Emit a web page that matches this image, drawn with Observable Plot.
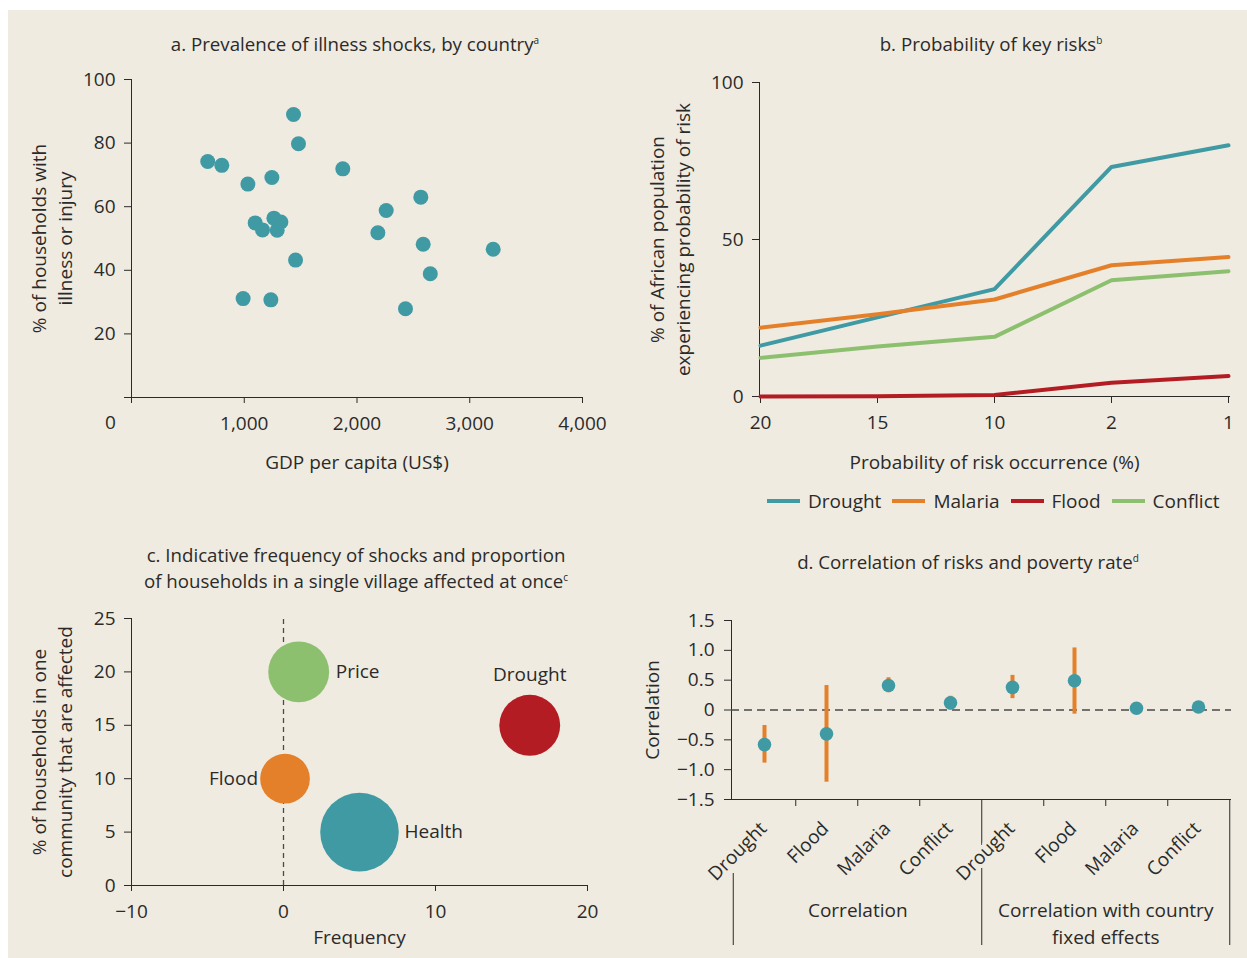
<!DOCTYPE html>
<html>
<head>
<meta charset="utf-8">
<script src="https://cdn.jsdelivr.net/npm/d3@7"></script>
<script src="https://cdn.jsdelivr.net/npm/@observablehq/plot@0.6"></script>
<style>
  html, body { margin: 0; padding: 0; background: #ffffff; }
  #root { position: relative; width: 1247px; height: 958px; overflow: hidden; font-family: 'Open Sans', sans-serif; color: #2b2a29; }
  #bg { position: absolute; left: 8px; top: 10px; width: 1239px; height: 948px; background: #efebe1; }
  .panel { position: absolute; }
  .title { position: absolute; transform: translate(-50%, -50%); font-size: 18.7px; white-space: nowrap; text-align: center; line-height: 26px; }
  .title sup { font-size: 10px; vertical-align: 0; position: relative; top: -7px; }
  #legend { position: absolute; left: 767px; top: 488px; display: flex; align-items: center; font-size: 19px; white-space: nowrap; }
  #legend .item { display: flex; align-items: center; margin-right: 11px; }
  #legend .sw { display: inline-block; width: 33px; height: 4px; margin-right: 8px; }
</style>
</head>
<body>
<div id="root">
  <div id="bg"></div>
  <div class="title" style="left:355px; top:45px;">a. Prevalence of illness shocks, by country<sup>a</sup></div>
  <div class="title" style="left:991px; top:45px;">b. Probability of key risks<sup>b</sup></div>
  <div class="title" style="left:356px; top:569px;">c. Indicative frequency of shocks and proportion<br>of households in a single village affected at once<sup>c</sup></div>
  <div class="title" style="left:968px; top:563px;">d. Correlation of risks and poverty rate<sup>d</sup></div>
  <div class="panel" id="pa" style="left:0px; top:0px;"></div>
  <div class="panel" id="pb" style="left:620px; top:0px;"></div>
  <div class="panel" id="pc" style="left:0px; top:480px;"></div>
  <div class="panel" id="pd" style="left:620px; top:480px;"></div>
  <div id="legend"></div>
</div>
<script>
// ---------- DATA ----------
// Panel a: GDP per capita vs % households with illness or injury
const gdpPerCapita = [1437, 1481, 676, 801, 1032, 1245, 1874, 2566, 2259, 1097, 1263, 1325, 1162, 1292, 2185, 2587, 3208, 1455, 2650, 990, 1236, 2430];
const illnessShare = [89.0, 79.8, 74.2, 73.0, 67.1, 69.2, 71.9, 63.0, 58.8, 54.9, 56.4, 55.2, 52.7, 52.6, 51.8, 48.2, 46.6, 43.2, 38.9, 31.1, 30.7, 27.9];
const gdpTicks = [0, 1000, 2000, 3000, 4000];
const illnessTicks = [0, 20, 40, 60, 80, 100];

// Panel b: probability of key risks
const probLabels = ["20", "15", "10", "2", "1"];
const riskNames = ["Drought", "Malaria", "Flood", "Conflict"];
const droughtPop = [16.2, 25.2, 34.2, 73.1, 80.0];
const malariaPop = [21.9, 26.2, 30.9, 41.8, 44.4];
const floodPop = [0.0, 0.1, 0.5, 4.4, 6.5];
const conflictPop = [12.3, 15.9, 19.0, 37.0, 39.9];
const popTicks = [0, 50, 100];

// Panel c: frequency vs share of households affected
const shockNames = ["Price", "Drought", "Flood", "Health"];
const shockFrequency = [1.0, 16.2, 0.1, 5.0];
const shockAffected = [20, 15, 10, 5];
const shockBubble = [3, 3, 2, 5];
const freqTicks = [-10, 0, 10, 20];
const affectedTicks = [0, 5, 10, 15, 20, 25];

// Panel d: correlation of risks and poverty rate
const corrRisks = ["Drought", "Flood", "Malaria", "Conflict"];
const corrGroups = ["Correlation", "Correlation with country\nfixed effects"];
const corrEstimate = [-0.58, -0.40, 0.41, 0.12];
const corrLow = [-0.89, -1.21, 0.29, 0.00];
const corrHigh = [-0.26, 0.41, 0.54, 0.23];
const feEstimate = [0.38, 0.49, 0.03, 0.05];
const feLow = [0.19, -0.07, 0.01, 0.03];
const feHigh = [0.58, 1.04, 0.05, 0.07];
const corrTicks = [-1.5, -1.0, -0.5, 0, 0.5, 1.0, 1.5];

// ---------- STYLE ----------
const INK = "#2b2a29";
const BG = "#efebe1";
const TEAL = "#409aa4";
const ORANGE = "#e5802a";
const RED = "#b41c24";
const GREEN = "#8cc06f";
const baseStyle = {background: "transparent", fontFamily: "'Open Sans', sans-serif", fontSize: "19px", color: INK, overflow: "visible"};
const yTitle = {frameAnchor: "left", textAnchor: "middle", lineAnchor: "middle", rotate: -90, lineHeight: 1.38, fill: INK};
const xTitle = {frameAnchor: "bottom", textAnchor: "middle", lineAnchor: "middle", fill: INK};

// ---------- PANEL A ----------
const aRows = gdpPerCapita.map((g, i) => ({gdp: g, share: illnessShare[i]}));
const plotA = Plot.plot({
  width: 620, height: 480,
  marginLeft: 131, marginRight: 38, marginTop: 79, marginBottom: 83,
  style: baseStyle,
  x: {domain: [0, 4000], ticks: gdpTicks, tickFormat: d => d === 0 ? "" : d3.format(",")(d), tickSize: 6, tickPadding: 13, line: true, label: null},
  y: {domain: [0, 100], ticks: illnessTicks, tickFormat: d => d === 0 ? "" : String(d), tickSize: 7, tickPadding: 9, line: true, label: null},
  marks: [
    Plot.dot(aRows, {x: "gdp", y: "share", r: 7.5, fill: TEAL}),
    Plot.text([gdpTicks[0]], {x: d => d, ...xTitle, dx: -21, dy: 25, text: d => String(d)}),
    Plot.text(["GDP per capita (US$)"], {...xTitle, dy: 65, text: d => d}),
    Plot.text(["% of households with\nillness or injury"], {...yTitle, dx: -81, text: d => d})
  ]
});
document.getElementById("pa").append(plotA);

// ---------- PANEL B ----------
const bSeries = [droughtPop, malariaPop, floodPop, conflictPop];
const bRows = riskNames.flatMap((r, ri) => probLabels.map((p, i) => ({risk: r, p, v: bSeries[ri][i]})));
const riskColors = [TEAL, ORANGE, RED, GREEN];
const plotB = Plot.plot({
  width: 627, height: 480,
  marginLeft: 139, marginRight: 18, marginTop: 82, marginBottom: 84,
  style: baseStyle,
  x: {type: "point", domain: probLabels, padding: 0, tickSize: 7, tickPadding: 12, line: true, label: null},
  y: {domain: [0, 100], ticks: popTicks, tickSize: 7, tickPadding: 9, line: true, label: null},
  color: {domain: riskNames, range: riskColors},
  marks: [
    Plot.line(bRows, {x: "p", y: "v", z: "risk", stroke: "risk", strokeWidth: 4}),
    Plot.text(["Probability of risk occurrence (%)"], {...xTitle, dy: 66, text: d => d}),
    Plot.text(["% of African population\nexperiencing probability of risk"], {...yTitle, dx: -91, text: d => d})
  ]
});
document.getElementById("pb").append(plotB);

// legend
const legend = document.getElementById("legend");
riskNames.forEach((r, i) => {
  const item = document.createElement("div");
  item.className = "item";
  const sw = document.createElement("span");
  sw.className = "sw";
  sw.style.background = riskColors[i];
  item.append(sw, document.createTextNode(r));
  legend.append(item);
});

// ---------- PANEL C ----------
const cRows = shockNames.map((n, i) => ({name: n, freq: shockFrequency[i], share: shockAffected[i], size: shockBubble[i]}));
const shockColors = [GREEN, RED, ORANGE, TEAL];
const labelPlacement = {
  Price: {dx: 37, dy: 0, textAnchor: "start"},
  Drought: {dx: 0, dy: -50, textAnchor: "middle"},
  Flood: {dx: -27, dy: 0, textAnchor: "end"},
  Health: {dx: 45, dy: 0, textAnchor: "start"}
};
const plotC = Plot.plot({
  width: 620, height: 478,
  marginLeft: 131, marginRight: 33, marginTop: 138, marginBottom: 73,
  style: baseStyle,
  x: {domain: [-10, 20], ticks: freqTicks, tickSize: 6, tickPadding: 13, line: true, label: null},
  y: {domain: [0, 25], ticks: affectedTicks, tickSize: 7, tickPadding: 9, line: true, label: null},
  r: {domain: [0, 5], range: [0, 39.3]},
  color: {domain: shockNames, range: shockColors},
  marks: [
    Plot.ruleX([0], {y1: 0, y2: 25, stroke: "#4a4a4a", strokeWidth: 1.3, strokeDasharray: "5,4"}),
    Plot.dot(cRows, {x: "freq", y: "share", r: "size", fill: "name"}),
    ...shockNames.map(n => Plot.text(cRows.filter(d => d.name === n), {x: "freq", y: "share", text: "name", fill: INK, ...labelPlacement[n]})),
    Plot.text(["Frequency"], {...xTitle, dy: 52, text: d => d}),
    Plot.text(["% of households in one\ncommunity that are affected"], {...yTitle, dx: -81, text: d => d})
  ]
});
document.getElementById("pc").append(plotC);

// ---------- PANEL D ----------
const dRows = [];
corrGroups.forEach((g, gi) => corrRisks.forEach((r, i) => {
  const est = gi === 0 ? corrEstimate[i] : feEstimate[i];
  const lo = gi === 0 ? corrLow[i] : feLow[i];
  const hi = gi === 0 ? corrHigh[i] : feHigh[i];
  dRows.push({key: gi + "-" + r, group: g, label: r, est, lo, hi});
}));
const dKeys = dRows.map(d => d.key);
const dWidth = 627, dLeft = 111, dRight = 16, dTop = 140, dBottom = 159, dHeight = 478;
const bw = (dWidth - dLeft - dRight) / dKeys.length;
const pxPerUnit = (dHeight - dTop - dBottom) / 3;
const below = px => -1.5 - px / pxPerUnit; // value lying px pixels under the axis
const groupEnds = dKeys.filter((k, i) => (i + 1) % corrRisks.length === 0);
const innerKeys = dKeys.filter((k, i) => (i + 1) % corrRisks.length !== 0);
const groupCenters = corrGroups.map((g, gi) => ({g, key: dKeys[gi * corrRisks.length + 1]}));
const plotD = Plot.plot({
  width: dWidth, height: dHeight,
  marginLeft: dLeft, marginRight: dRight, marginTop: dTop, marginBottom: dBottom,
  style: baseStyle,
  x: {type: "band", domain: dKeys, padding: 0, axis: null},
  y: {domain: [-1.5, 1.5], ticks: corrTicks, tickFormat: d => d === 0 ? "0" : d3.format(".1f")(d), tickSize: 7, tickPadding: 10, line: true, label: null},
  marks: [
    Plot.ruleY([-1.5], {stroke: INK}),
    Plot.ruleY([0], {stroke: "#4a4a4a", strokeWidth: 1.3, strokeDasharray: "8,5"}),
    Plot.ruleX(innerKeys, {x: d => d, dx: bw / 2, y1: -1.5, y2: below(7), stroke: INK}),
    Plot.ruleX(groupEnds, {x: d => d, dx: bw / 2, y1: -1.5, y2: below(146), stroke: INK}),
    Plot.ruleX([dKeys[0]], {x: d => d, dx: -bw / 2, y1: below(74), y2: below(146), stroke: INK}),
    Plot.ruleX(dRows, {x: "key", y1: "lo", y2: "hi", stroke: ORANGE, strokeWidth: 4}),
    Plot.dot(dRows, {x: "key", y: "est", r: 6.8, fill: TEAL}),
    Plot.text(dRows, {x: "key", y: -1.5, text: "label", rotate: -45, textAnchor: "end", dx: -1, dy: 26, fill: INK, stroke: BG, strokeWidth: 8}),
    Plot.text(groupCenters, {x: "key", dx: bw / 2, frameAnchor: "bottom", textAnchor: "middle", dy: 99, lineAnchor: "top", lineHeight: 1.4, text: "g", fill: INK}),
    Plot.text(["Correlation"], {...yTitle, dx: -81, text: d => d})
  ]
});
document.getElementById("pd").append(plotD);
</script>
</body>
</html>
